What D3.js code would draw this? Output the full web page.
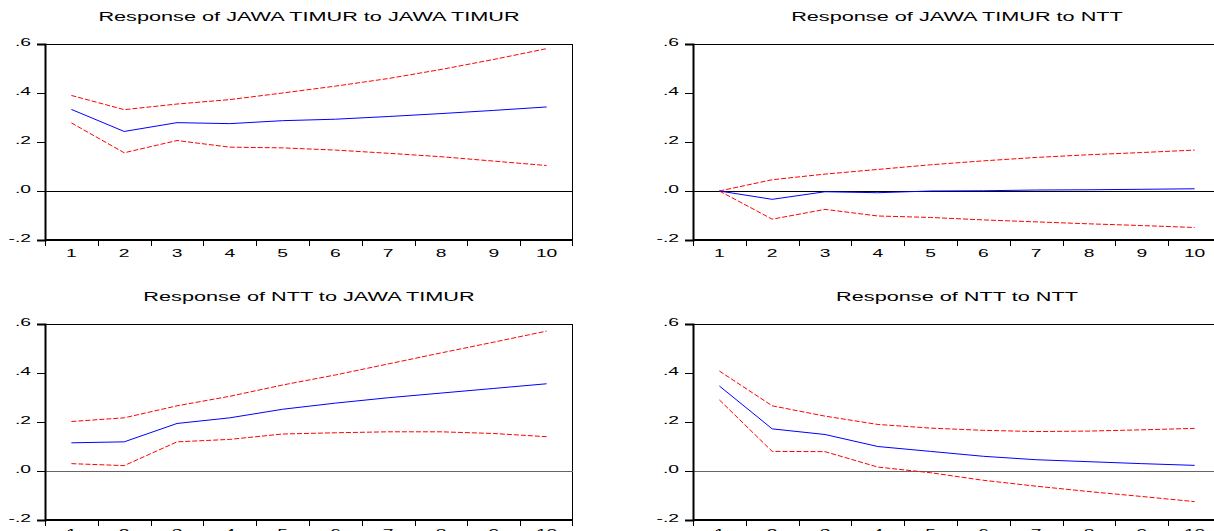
<!DOCTYPE html>
<html>
<head>
<meta charset="utf-8">
<script src="https://cdn.jsdelivr.net/npm/d3@7"></script>
<style>
  body { margin: 0; background: #fff; }
  svg { display: block; font-family: "Liberation Sans", Arial, sans-serif; }
</style>
</head>
<body>
<div id="chart"></div>
<script>
// impulse response periods and y ticks
const periods = [1, 2, 3, 4, 5, 6, 7, 8, 9, 10];
const yTicks = [-0.2, 0, 0.2, 0.4, 0.6];
const yTickLabels = ["-.2", ".0", ".2", ".4", ".6"];

const titles = [
  "Response of JAWA TIMUR to JAWA TIMUR",
  "Response of JAWA TIMUR to NTT",
  "Response of NTT to JAWA TIMUR",
  "Response of NTT to NTT"
];

// Response of JAWA TIMUR to JAWA TIMUR
const jtJtResp  = [0.333, 0.243, 0.279, 0.275, 0.287, 0.293, 0.304, 0.316, 0.329, 0.343];
const jtJtUpper = [0.390, 0.332, 0.355, 0.373, 0.400, 0.428, 0.459, 0.496, 0.537, 0.581];
const jtJtLower = [0.278, 0.156, 0.206, 0.179, 0.176, 0.167, 0.154, 0.140, 0.122, 0.104];

// Response of JAWA TIMUR to NTT
const jtNttResp  = [0, -0.034, -0.003, -0.007, 0, 0.001, 0.004, 0.005, 0.007, 0.009];
const jtNttUpper = [0, 0.046, 0.069, 0.088, 0.107, 0.123, 0.137, 0.148, 0.157, 0.167];
const jtNttLower = [0, -0.115, -0.075, -0.102, -0.108, -0.118, -0.126, -0.134, -0.141, -0.149];

// Response of NTT to JAWA TIMUR
const nttJtResp  = [0.115, 0.119, 0.194, 0.217, 0.252, 0.277, 0.299, 0.318, 0.337, 0.356];
const nttJtUpper = [0.202, 0.217, 0.266, 0.305, 0.351, 0.392, 0.437, 0.482, 0.526, 0.571];
const nttJtLower = [0.030, 0.022, 0.119, 0.129, 0.151, 0.156, 0.160, 0.160, 0.153, 0.140];

// Response of NTT to NTT
const nttNttResp  = [0.347, 0.172, 0.149, 0.100, 0.080, 0.060, 0.046, 0.038, 0.030, 0.023];
const nttNttUpper = [0.408, 0.266, 0.224, 0.190, 0.175, 0.166, 0.161, 0.163, 0.168, 0.174];
const nttNttLower = [0.290, 0.080, 0.079, 0.016, -0.007, -0.038, -0.062, -0.084, -0.104, -0.125];

const panels = [
  {title: titles[0], resp: jtJtResp,   upper: jtJtUpper,   lower: jtJtLower,   col: 0, row: 0},
  {title: titles[1], resp: jtNttResp,  upper: jtNttUpper,  lower: jtNttLower,  col: 1, row: 0},
  {title: titles[2], resp: nttJtResp,  upper: nttJtUpper,  lower: nttJtLower,  col: 0, row: 1},
  {title: titles[3], resp: nttNttResp, upper: nttNttUpper, lower: nttNttLower, col: 1, row: 1}
];

const width = 1214, height = 531;
const colLeft = [45, 693];   // frame left edges
const rowTop = [44, 324];    // frame top edges
const plotW = 528, plotH = 196;
const sx = 1.75;             // the source picture is stretched sideways

const svg = d3.select("#chart").append("svg")
    .attr("width", width)
    .attr("height", height)
    .attr("viewBox", [0, 0, width, height]);

panels.forEach(p => drawPanel(p));

function drawPanel(p) {
  const left = colLeft[p.col], top = rowTop[p.row];
  const x = d3.scaleBand(periods, [left, left + plotW]);
  const y = d3.scaleLinear([-0.2, 0.6], [top + plotH, top]);
  const cx = d => x(d) + x.bandwidth() / 2;

  const g = svg.append("g");

  // title
  g.append("text")
      .attr("transform", `translate(${left + plotW / 2},${top - 23}) scale(${sx},1)`)
      .attr("text-anchor", "middle")
      .attr("font-size", 12.4)
      .attr("fill", "#000")
      .text(p.title);

  // frame
  g.append("rect")
      .attr("x", left + 0.5)
      .attr("y", top + 0.5)
      .attr("width", plotW - 1)
      .attr("height", plotH - 1)
      .attr("fill", "none")
      .attr("stroke", "#000");

  // zero line
  g.append("line")
      .attr("x1", left).attr("x2", left + plotW)
      .attr("y1", Math.round(y(0)) + 0.5).attr("y2", Math.round(y(0)) + 0.5)
      .attr("stroke", p.row ? "#666" : "#000");

  // y axis
  g.append("g")
      .attr("transform", `translate(${left},0)`)
      .call(d3.axisLeft(y).tickValues(yTicks).tickSize(8)
          .tickFormat((d, i) => yTickLabels[i]))
      .call(a => a.select(".domain").attr("stroke-width", 2))
      .call(a => a.selectAll(".tick text")
          .attr("x", -14 / sx)
          .attr("dy", "0.12em")
          .attr("transform", `scale(${sx},1)`)
          .attr("font-size", 11)
          .attr("font-family", null));

  // x axis: ticks at band edges, labels at band centres
  const xa = g.append("g")
      .attr("transform", `translate(0,${top + plotH})`);
  xa.append("path")
      .attr("d", `M${left},0.5H${left + plotW}`)
      .attr("stroke", "#000");
  xa.selectAll("line")
    .data(periods.concat([null]))
    .join("line")
      .attr("x1", d => d === null ? left + plotW - 0.5 : Math.round(x(d)) + 0.5)
      .attr("x2", d => d === null ? left + plotW - 0.5 : Math.round(x(d)) + 0.5)
      .attr("y1", 0).attr("y2", 6)
      .attr("stroke", "#000");
  xa.selectAll("text")
    .data(periods)
    .join("text")
      .attr("transform", d => `translate(${cx(d)},17) scale(${sx},1)`)
      .attr("text-anchor", "middle")
      .attr("font-size", 11)
      .attr("fill", "#000")
      .text(d => d);

  const line = d3.line()
      .x((d, i) => cx(periods[i]))
      .y(d => y(d));

  g.append("path")
      .attr("d", line(p.upper))
      .attr("fill", "none")
      .attr("stroke", "#ff0000")
      .attr("stroke-dasharray", "5,2");
  g.append("path")
      .attr("d", line(p.lower))
      .attr("fill", "none")
      .attr("stroke", "#ff0000")
      .attr("stroke-dasharray", "5,2");
  g.append("path")
      .attr("d", line(p.resp))
      .attr("fill", "none")
      .attr("stroke", "#0000ff");
}
</script>
</body>
</html>
